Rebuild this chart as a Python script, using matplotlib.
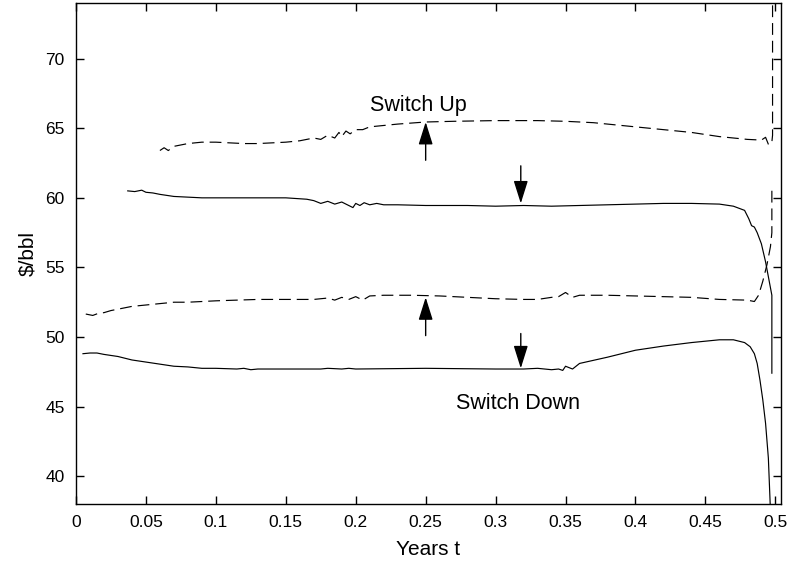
import numpy as np
import matplotlib
matplotlib.use("Agg")
import matplotlib.pyplot as plt

plt.rcParams['font.family'] = ['Liberation Sans', 'DejaVu Sans']

# upper boundary, switch up (dashed)
up_hi_t = [0.060, 0.063, 0.066, 0.070, 0.075, 0.080, 0.090, 0.100, 0.110, 0.120,
           0.130, 0.140, 0.150, 0.160, 0.170, 0.175, 0.180, 0.185, 0.188, 0.190,
           0.193, 0.196, 0.200, 0.205, 0.210, 0.220, 0.230, 0.250, 0.270, 0.300,
           0.330, 0.350, 0.370, 0.400, 0.420, 0.440, 0.460, 0.480, 0.490, 0.493,
           0.4952, 0.4975, 0.498, 0.498]
up_hi_p = [63.4, 63.6, 63.4, 63.7, 63.8, 63.9, 64.0, 64.0, 63.95, 63.9,
           63.9, 63.95, 64.0, 64.1, 64.3, 64.2, 64.5, 64.3, 64.7, 64.4,
           64.8, 64.6, 64.9, 64.9, 65.1, 65.2, 65.3, 65.45, 65.5, 65.55,
           65.55, 65.5, 65.4, 65.1, 64.9, 64.7, 64.4, 64.2, 64.15, 64.35,
           63.8, 64.0, 64.5, 76.0]

# upper boundary, switch down (solid)
dn_hi_t = [0.037, 0.042, 0.047, 0.050, 0.055, 0.060, 0.070, 0.080, 0.090, 0.110,
           0.130, 0.150, 0.165, 0.170, 0.175, 0.180, 0.185, 0.190, 0.195, 0.198,
           0.200, 0.203, 0.206, 0.210, 0.215, 0.220, 0.230, 0.250, 0.280, 0.300,
           0.320, 0.340, 0.360, 0.380, 0.400, 0.420, 0.440, 0.460, 0.470, 0.478,
           0.481, 0.483, 0.485, 0.487, 0.490, 0.493, 0.496, 0.4975, 0.4975]
dn_hi_p = [60.5, 60.45, 60.55, 60.4, 60.35, 60.25, 60.1, 60.05, 60.0, 60.0,
           60.0, 60.0, 59.9, 59.8, 59.6, 59.75, 59.55, 59.7, 59.45, 59.3,
           59.6, 59.45, 59.65, 59.5, 59.6, 59.5, 59.5, 59.45, 59.45, 59.4,
           59.45, 59.4, 59.45, 59.5, 59.55, 59.6, 59.6, 59.55, 59.4, 59.1,
           58.5, 58.0, 57.9, 57.5, 56.7, 55.4, 53.8, 53.0, 47.4]

# lower boundary, switch up (dashed)
up_lo_t = [0.007, 0.012, 0.016, 0.020, 0.025, 0.030, 0.040, 0.050, 0.060, 0.070,
           0.080, 0.090, 0.100, 0.115, 0.130, 0.150, 0.170, 0.180, 0.185, 0.190,
           0.195, 0.200, 0.205, 0.210, 0.220, 0.240, 0.260, 0.280, 0.300, 0.320,
           0.330, 0.340, 0.345, 0.350, 0.355, 0.360, 0.380, 0.400, 0.420, 0.440,
           0.460, 0.480, 0.485, 0.488, 0.491, 0.494, 0.4965, 0.4975, 0.4975]
up_lo_p = [51.65, 51.55, 51.7, 51.75, 51.9, 52.0, 52.2, 52.3, 52.4, 52.5,
           52.5, 52.55, 52.6, 52.65, 52.7, 52.7, 52.7, 52.8, 52.65, 52.85,
           52.7, 52.9, 52.65, 52.95, 53.0, 53.0, 52.95, 52.85, 52.75, 52.7,
           52.7, 52.85, 52.9, 53.2, 52.85, 53.0, 53.0, 52.95, 52.9, 52.85,
           52.7, 52.65, 52.55, 53.0, 54.0, 55.2, 56.5, 57.5, 60.6]

# lower boundary, switch down (solid)
dn_lo_t = [0.005, 0.010, 0.015, 0.020, 0.030, 0.040, 0.050, 0.060, 0.070, 0.080,
           0.090, 0.100, 0.115, 0.120, 0.125, 0.130, 0.150, 0.175, 0.180, 0.190,
           0.195, 0.200, 0.250, 0.300, 0.320, 0.330, 0.340, 0.345, 0.348, 0.350,
           0.355, 0.360, 0.380, 0.400, 0.420, 0.440, 0.460, 0.470, 0.478, 0.482,
           0.485, 0.487, 0.489, 0.491, 0.493, 0.495, 0.4965]
dn_lo_p = [48.8, 48.85, 48.85, 48.75, 48.6, 48.35, 48.2, 48.05, 47.9, 47.85,
           47.75, 47.75, 47.7, 47.75, 47.65, 47.7, 47.7, 47.7, 47.75, 47.7,
           47.75, 47.7, 47.75, 47.7, 47.7, 47.75, 47.65, 47.7, 47.6, 47.9,
           47.7, 48.1, 48.55, 49.05, 49.35, 49.6, 49.8, 49.8, 49.6, 49.3,
           48.8, 48.1, 46.9, 45.5, 43.8, 41.3, 37.5]

xticks = [0, 0.05, 0.1, 0.15, 0.2, 0.25, 0.3, 0.35, 0.4, 0.45, 0.5]
xlabels = ['0', '0.05', '0.1', '0.15', '0.2', '0.25', '0.3', '0.35', '0.4', '0.45', '0.5']
yticks = [40, 45, 50, 55, 60, 65, 70]

# arrows: (t, tail, head)
arrows = [(0.25, 62.7, 65.45), (0.318, 62.3, 59.6),
          (0.25, 50.1, 52.85), (0.318, 50.25, 47.75)]

fig = plt.figure(figsize=(7.89, 5.67), dpi=100)
ax = fig.add_axes([0.0963, 0.1111, 0.8935, 0.8836])

dash = (0, (10, 5))
ax.plot(up_hi_t, up_hi_p, color='k', lw=0.85, linestyle=dash)
ax.plot(dn_hi_t, dn_hi_p, color='k', lw=0.85)
ax.plot(up_lo_t, up_lo_p, color='k', lw=0.85, linestyle=dash)
ax.plot(dn_lo_t, dn_lo_p, color='k', lw=0.85)

for t, a, b in arrows:
    ax.annotate('', xy=(t, b), xytext=(t, a),
                arrowprops=dict(arrowstyle='-|>,head_length=0.7,head_width=0.22',
                                color='k', lw=1.0, mutation_scale=20,
                                shrinkA=0, shrinkB=0))

ax.text(0.2105, 66.6, 'Switch Up', va='center', ha='left', fontsize=15.5)
ax.text(0.272, 45.2, 'Switch Down', va='center', ha='left', fontsize=15.5)

ax.set_xlim(0, 0.504)
ax.set_ylim(38, 74)
ax.set_xticks(xticks)
ax.set_xticklabels(xlabels)
ax.set_yticks(yticks)
ax.tick_params(direction='in', length=6, width=1, top=True, right=True,
               labelsize=12.5, pad=8)
for s in ax.spines.values():
    s.set_linewidth(1.0)
ax.set_xlabel('Years t', fontsize=15, labelpad=7)
ax.set_ylabel('$/bbl', fontsize=15, labelpad=6)

fig.savefig('out.png', dpi=100)
